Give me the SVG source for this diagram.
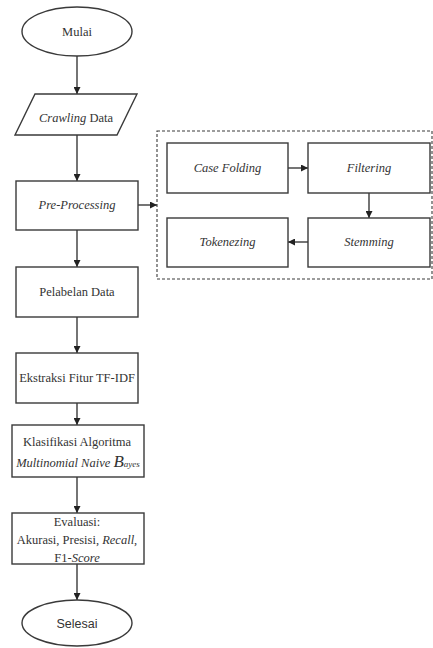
<svg xmlns="http://www.w3.org/2000/svg" width="433" height="648" viewBox="0 0 433 648">
<style>
.s{fill:#fff;stroke:#3a3a3a;stroke-width:1.4}
.t{font-family:'Liberation Serif','DejaVu Serif',serif;font-size:12.5px;fill:#333;text-anchor:middle}
.i{font-style:italic}
.c{stroke:#3a3a3a;stroke-width:1.4;fill:none;marker-end:url(#a)}
.d{fill:none;stroke:#3a3a3a;stroke-width:1.1;stroke-dasharray:3 2}
</style>
<defs>
<marker id="a" viewBox="0 0 10 10" refX="10" refY="5" markerWidth="7" markerHeight="7" markerUnits="userSpaceOnUse" orient="auto">
<path d="M0,0 L10,5 L0,10 Z" fill="#222"/>
</marker>
</defs>
<rect width="433" height="648" fill="#fff"/>
<g id="connectors">
<line class="c" x1="77" y1="56" x2="77" y2="94"/>
<line class="c" x1="77" y1="135" x2="77" y2="181"/>
<line class="c" x1="138" y1="205" x2="157" y2="205"/>
<line class="c" x1="77" y1="230" x2="77" y2="267"/>
<line class="c" x1="77" y1="317" x2="77" y2="353"/>
<line class="c" x1="77" y1="403" x2="77" y2="425"/>
<line class="c" x1="77" y1="477" x2="77" y2="513"/>
<line class="c" x1="77" y1="564" x2="77" y2="600"/>
<line class="c" x1="288" y1="168" x2="308" y2="168"/>
<line class="c" x1="369" y1="193" x2="369" y2="218"/>
<line class="c" x1="308" y1="242" x2="288" y2="242"/>
</g>
<g id="preprocessing-group">
<rect class="d" x="157" y="131" width="275" height="148"/>
</g>
<g id="mulai">
<ellipse class="s" cx="77" cy="31.5" rx="55" ry="24.5"/>
<text class="t" x="77" y="36">Mulai</text>
</g>
<g id="crawling">
<polygon class="s" points="35,94 137,94 117,135 15,135"/>
<text class="t" x="76" y="122"><tspan class="i">Crawling</tspan> Data</text>
</g>
<g id="preprocessing">
<rect class="s" x="16" y="181" width="122" height="49"/>
<text class="t i" x="77" y="209">Pre-Processing</text>
</g>
<g id="casefolding">
<rect class="s" x="167" y="143" width="121" height="50"/>
<text class="t i" x="227.5" y="172">Case Folding</text>
</g>
<g id="filtering">
<rect class="s" x="308" y="143" width="122" height="50"/>
<text class="t i" x="369" y="172">Filtering</text>
</g>
<g id="stemming">
<rect class="s" x="308" y="218" width="122" height="49"/>
<text class="t i" x="369" y="246">Stemming</text>
</g>
<g id="tokenezing">
<rect class="s" x="167" y="218" width="121" height="49"/>
<text class="t i" x="227.5" y="246">Tokenezing</text>
</g>
<g id="pelabelan">
<rect class="s" x="16" y="267" width="122" height="50"/>
<text class="t" x="77" y="296">Pelabelan Data</text>
</g>
<g id="ekstraksi">
<rect class="s" x="16" y="353" width="122" height="50"/>
<text class="t" x="77" y="382">Ekstraksi Fitur TF-IDF</text>
</g>
<g id="klasifikasi">
<rect class="s" x="12" y="425" width="132" height="52"/>
<text class="t" x="77" y="446">Klasifikasi Algoritma</text>
<text class="t i" x="78" y="467">Multinomial Naive <tspan font-size="17px">B</tspan><tspan font-size="9px">ayes</tspan></text>
</g>
<g id="evaluasi">
<rect class="s" x="12" y="513" width="132" height="51"/>
<text class="t" x="77" y="526">Evaluasi:</text>
<text class="t" x="77" y="544">Akurasi, Presisi, <tspan class="i">Recall</tspan>,</text>
<text class="t" x="77" y="562">F1-<tspan class="i">Score</tspan></text>
</g>
<g id="selesai">
<ellipse class="s" cx="77" cy="623" rx="55" ry="23"/>
<text x="77" y="627.5" font-family="'Liberation Sans',Arial,sans-serif" font-size="12.5px" fill="#333" text-anchor="middle">Selesai</text>
</g>
</svg>
